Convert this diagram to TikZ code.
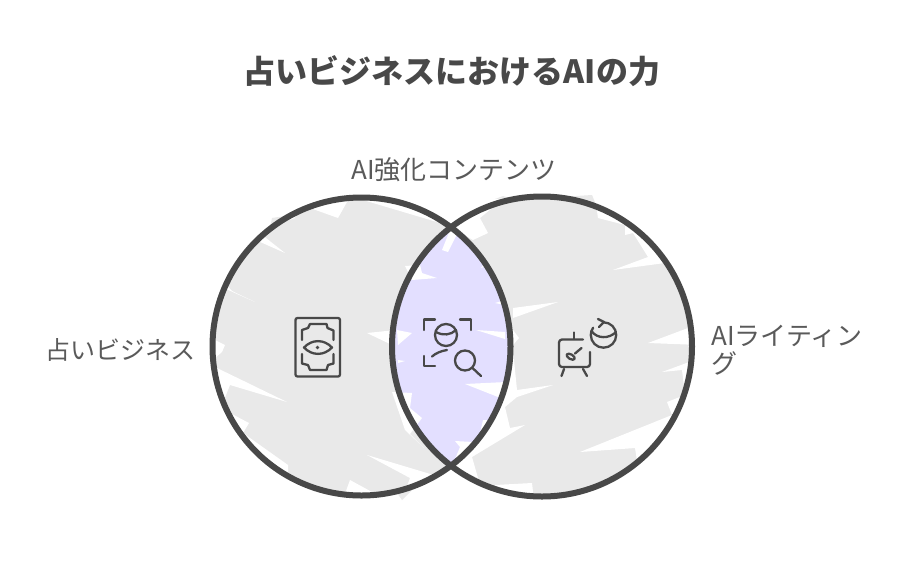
\documentclass[tikz,border=0pt]{standalone}
\usepackage{fontspec}
\setmainfont{Noto Sans CJK JP}
\definecolor{ink}{HTML}{484848}
\definecolor{txt}{HTML}{5A5A5A}
\definecolor{grayfill}{HTML}{E9E9E9}
\definecolor{lav}{HTML}{E3DFFF}
\tikzset{
  ring/.style={draw=ink,line width=6pt},
  gap/.style={fill=white,draw=none},
  iconline/.style={draw=ink,line width=2.3pt,line cap=round,line join=round},
  lbl/.style={text=txt,inner sep=0pt,font=\fontsize{26}{28.5}\selectfont},
}
\begin{document}
\begin{tikzpicture}[x=1pt,y=-1pt]
\useasboundingbox (0,0) rectangle (920,560);
\fill[white] (0,0) rectangle (920,560);
\coordinate (LC) at (361.5,346.5);
\coordinate (RC) at (542,346.5);
% gray sketch fills
\fill[grayfill] (LC) circle (149);
\fill[grayfill] (RC) circle (150);
\fill[grayfill] (495,199)--(503,196)--(510,198)--cycle;
\fill[grayfill] (560,197)--(592,195)--(596,205)--cycle;
\fill[grayfill] (395,490)--(402,500)--(412,490)--cycle;
\fill[grayfill] (270,228)--(272,218)--(285,216)--cycle;
% gaps in the gray of the left shape
\begin{scope}
\clip (LC) circle (149);
\fill[gap] (310,208)--(338,218)--(347,202)--(353,190)--(300,190)--cycle;
\fill[gap] (363,200)--(447,225)--(462,190)--(375,190)--cycle;
\fill[gap] (272,226)--(295,218)--(290,205)--(265,215)--cycle;
\fill[gap] (258,241)--(285,253)--(266,238)--(255,230)--cycle;
\fill[gap] (226,289)--(255,302)--(232,291)--(225,283)--cycle;
\fill[gap] (215,340)--(225,345)--(222,352)--(215,358)--cycle;
\fill[gap] (217,368)--(287,402)--(230,385)--(224,400)--(205,395)--cycle;
\fill[gap] (230,413)--(249,423)--(243,433)--(288,465)--(288,473)--(262,480)--(215,430)--cycle;
\fill[gap] (367,455)--(437,476)--(445,490)--(400,505)--(410,478)--cycle;
\fill[gap] (350,480)--(372,492)--(380,500)--(342,502)--cycle;
\fill[gap] (367,333)--(392,345)--(396,330)--cycle;
\end{scope}
% gaps in the gray of the right shape
\begin{scope}
\clip (RC) circle (150);
\fill[gap] (453,228)--(473,240)--(488,233)--(480,218)--(503,199)--(475,195)--cycle;
\fill[gap] (595,198)--(598,218)--(625,225)--(625,235)--(633,233)--(648,257)--(613,270)--(665,263)--(670,200)--cycle;
\fill[gap] (513,308)--(558,302)--(513,318)--cycle;
\fill[gap] (513,330)--(519,338)--(513,345)--cycle;
\fill[gap] (683,305)--(690,327)--(700,325)--(695,300)--cycle;
\fill[gap] (648,343)--(688,328)--(700,345)--cycle;
\fill[gap] (662,372)--(692,361)--(705,400)--(695,445)--(640,480)--(635,448)--(580,452)--(672,415)--(667,402)--(685,395)--(682,370)--cycle;
\fill[gap] (513,350)--(517,390)--(553,385)--(517,397)--(505,407)--(510,428)--(525,425)--(472,457)--(478,478)--(456,468)--(440,450)--(495,400)--cycle;
\fill[gap] (495,485)--(532,483)--(534,500)--(495,500)--cycle;
\end{scope}
% lens
\begin{scope}
\clip (LC) circle (149);
\fill[lav] (RC) circle (150);
\fill[gap] (442,250)--(450,230)--(458,232)--(448,252)--cycle;
\fill[gap] (412,280)--(437,278)--(422,273)--(420,265)--(405,266)--cycle;
\fill[gap] (397,330)--(412,333)--(398,345)--cycle;
\fill[gap] (398,360)--(405,361)--(398,363)--cycle;
\fill[gap] (476,330)--(505,332)--(505,339)--cycle;
\fill[gap] (465,384)--(498,397)--(506,398)--(506,382)--cycle;
\fill[gap] (483,420)--(478,442)--(500,420)--cycle;
\fill[gap] (455,441)--(473,442)--(453,464)--(460,447)--cycle;
\fill[gap] (481,268)--(493,263)--(490,256)--cycle;
\fill[gap] (495,303)--(505,305)--(505,300)--cycle;
\fill[gap] (503,275)--(512,275)--(512,295)--(505,295)--cycle;
\fill[gap] (392,392)--(412,393)--(410,408)--(422,418)--(410,434)--(424,448)--(405,430)--cycle;
\end{scope}
% outlines
\draw[ring] (LC) circle (149);
\draw[ring] (RC) circle (150);
% card icon
\draw[iconline,rounded corners=2pt] (295.5,318) rectangle (340,376.5);
\draw[iconline] (302,340)--(302,330)--(308,328)--(310,324)--(326.5,324)--(327.5,328)--(333.5,330.5)--(333.5,340);
\draw[iconline] (302,354)--(302,363.5)--(308,365)--(310,370)--(326.5,370)--(328,365)--(333.5,363.5)--(333.5,354);
\draw[iconline] (304,347.5) .. controls (312,339) and (324,339) .. (332,347.5) .. controls (324,356) and (312,356) .. (304,347.5) -- cycle;
\fill[ink] (317.5,347.5) circle (1.8);
% analysis icon
\draw[iconline] (424,330)--(424,319.5)--(435,319.5);
\draw[iconline] (460,319.5)--(471,319.5)--(471,330);
\draw[iconline] (424,356)--(424,366)--(435,366);
\draw[iconline] (446,335) circle (11);
\draw[iconline] (436,332) .. controls (443,336) and (451,335) .. (456,330);
\draw[iconline] (432,356.5) .. controls (436,353) and (441,351) .. (447,350);
\draw[iconline] (465,360.5) circle (10);
\draw[iconline] (472.5,368)--(481,376);
% easel icon
\draw[iconline] (574,332.5)--(574,339);
\draw[iconline,rounded corners=3pt] (583,339.5)--(559,339.5)--(559,367)--(590,367)--(590,352);
\draw[iconline] (564,369)--(561.5,376);
\draw[iconline] (583,369)--(587,376);
\draw[iconline] (581.5,348)--(575,353.5);
\draw[iconline,rotate around={-30:(570.7,356.7)}] (570.7,356.7) ellipse (4.5 and 2.3);
% chart icon
\draw[iconline] (603.5,322.3) arc[start angle=-90,end angle=215,radius=12.7];
\draw[iconline] (591.5,331) .. controls (597,339) and (609,339) .. (616,332);
\draw[iconline] (598,319)--(604,322)--(599,327);
% labels
\node[text=ink,inner sep=0pt,font=\fontsize{32}{36}\bfseries\selectfont] (title) at (452,71.5) {占いビジネスにおけるAIの力};
\node[lbl,anchor=west] (top) at (351,170) {AI強化コンテンツ};
\node[lbl,anchor=west,font=\fontsize{25}{28.5}\selectfont] (left) at (45,350) {占いビジネス};
\node[lbl,anchor=west,align=left] (right) at (711,350) {AIライティン\\グ};
\end{tikzpicture}
\end{document}
